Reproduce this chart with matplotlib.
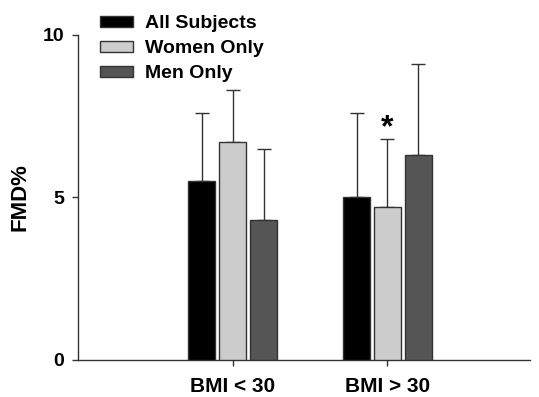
import matplotlib
matplotlib.use("Agg")
import matplotlib.pyplot as plt
import numpy as np
from matplotlib.patches import Patch

plt.rcParams['font.family'] = ['Liberation Sans', 'DejaVu Sans']

categories = ["BMI < 30", "BMI > 30"]
series = ["All Subjects", "Women Only", "Men Only"]
all_vals = [5.5, 5.0]
women_vals = [6.7, 4.7]
men_vals = [4.3, 6.3]
all_err = [2.1, 2.6]
women_err = [1.6, 2.1]
men_err = [2.2, 2.8]
colors = ["#000000", "#cccccc", "#555555"]

fig = plt.figure(figsize=(5.39, 3.97), dpi=100)
ax = fig.add_axes([0.1447, 0.0932, 0.8383, 0.8188])

x = np.arange(len(categories))
w = 0.177
offs = [-0.2, 0.0, 0.2]
vals = [all_vals, women_vals, men_vals]
errs = [all_err, women_err, men_err]
handles = []
for i in range(3):
    ax.bar(x + offs[i], vals[i], width=w, color=colors[i], edgecolor="#333333", linewidth=1.0, zorder=3)
    ax.errorbar(x + offs[i], vals[i], yerr=[np.zeros(len(x)), errs[i]], fmt="none",
                ecolor="#333333", elinewidth=1.0, capsize=5, capthick=1.0, zorder=2)
    handles.append(Patch(facecolor=colors[i], edgecolor="#333333", linewidth=1.0, label=series[i]))

ax.text(x[1] + offs[1], women_vals[1] + women_err[1] - 0.12, "*", ha="center", va="bottom",
        fontsize=23, fontweight="bold")

ax.set_xlim(-1.0, 1.92)
ax.set_ylim(0, 10)
ax.set_yticks([0, 5, 10])
ax.set_xticks(x)
ax.set_xticklabels(categories)
for lab in ax.get_yticklabels():
    lab.set_fontweight("bold")
    lab.set_fontsize(14)
for lab in ax.get_xticklabels():
    lab.set_fontweight("bold")
    lab.set_fontsize(15)
ax.tick_params(axis="both", direction="out", length=4, width=1, color="#333333", pad=6)
ax.tick_params(axis="x", pad=8)
for s in ["top", "right"]:
    ax.spines[s].set_visible(False)
for s in ["left", "bottom"]:
    ax.spines[s].set_color("#333333")
    ax.spines[s].set_linewidth(1.0)
ax.set_ylabel("FMD%", fontsize=16, fontweight="bold")
ax.yaxis.set_label_coords(-0.106, 0.5)

leg = fig.legend(handles=handles, loc="upper left", bbox_to_anchor=(0.1855, 0.962), frameon=False,
                 prop={"weight": "bold", "size": 14}, handlelength=1.7, handleheight=0.5,
                 labelspacing=0.42, handletextpad=0.62, borderaxespad=0, borderpad=0)

fig.savefig("out.png", dpi=100)
